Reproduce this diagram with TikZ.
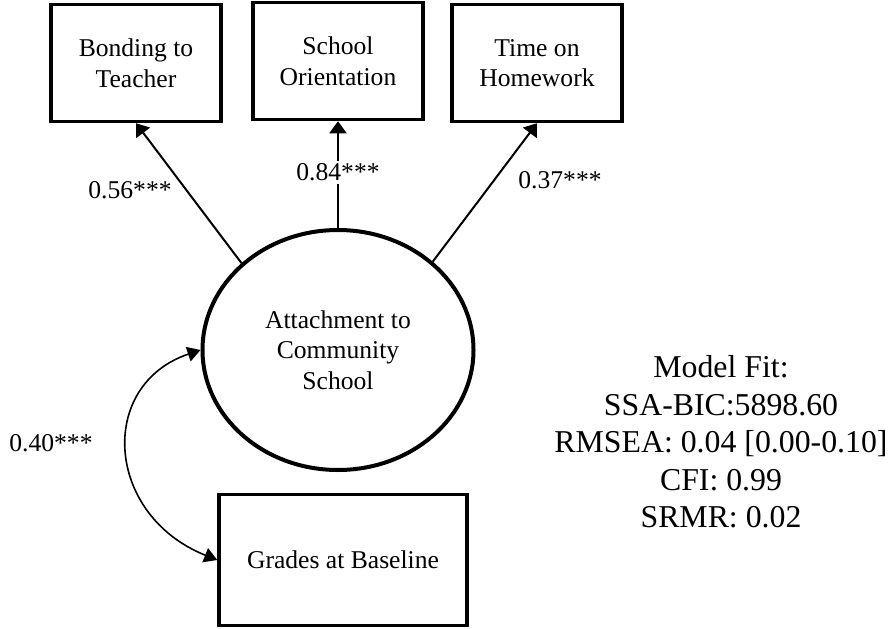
\documentclass[tikz,border=0pt]{standalone}
\usepackage{fontspec}
\setmainfont{Liberation Serif}
\usetikzlibrary{shapes.geometric,arrows.meta}
\begin{document}
\begin{tikzpicture}[x=1pt,y=-1pt,
  txt/.style={font=\fontsize{25.6}{30.5}\selectfont, align=center},
  obs/.style={txt, draw, line width=3.5pt, minimum width=170pt, minimum height=117pt, inner sep=0pt},
  lat/.style={txt, draw, ellipse, line width=4pt, minimum width=271pt, minimum height=240pt, inner sep=0pt},
  path/.style={line width=2pt, -{Triangle[length=12pt,width=17pt]}},
  cov/.style={line width=1.6pt, {Triangle[length=13pt,width=15pt]}-{Triangle[length=13pt,width=15pt]}},
  lbl/.style={txt, inner sep=1pt}
]
\useasboundingbox (0,0) rectangle (895,629);
\node[obs] (b1) at (136,63) {Bonding to\\Teacher};
\node[obs] (b2) at (338,61) {School\\Orientation};
\node[obs] (b3) at (537,63) {Time on\\Homework};
\node[lat] (ell) at (338,350) {Attachment to\\Community\\School};
\node[obs, minimum width=248pt, minimum height=131pt] (gr) at (343,560) {Grades at Baseline};

\draw[path] (ell.138) -- (b1.south);
\draw[path] (ell.north) -- node[lbl, fill=white, inner sep=3pt, pos=0.52] (l2) {0.84***} (b2.south);
\draw[path] (ell.43) -- (b3.south);
\draw[cov] (ell.west) .. controls (97,385) and (105,515) .. (gr.west);

\node[lbl] (l1) at (130,190) {0.56***};
\node[lbl] (l3) at (560,180) {0.37***};
\node[lbl] (l4) at (51,443) {0.40***};

\node[align=center, font=\fontsize{31.8}{37.5}\selectfont] (fit) at (721,442)
  {Model Fit:\\SSA-BIC:5898.60\\RMSEA: 0.04 [0.00-0.10]\\CFI: 0.99\\SRMR: 0.02};
\end{tikzpicture}
\end{document}
